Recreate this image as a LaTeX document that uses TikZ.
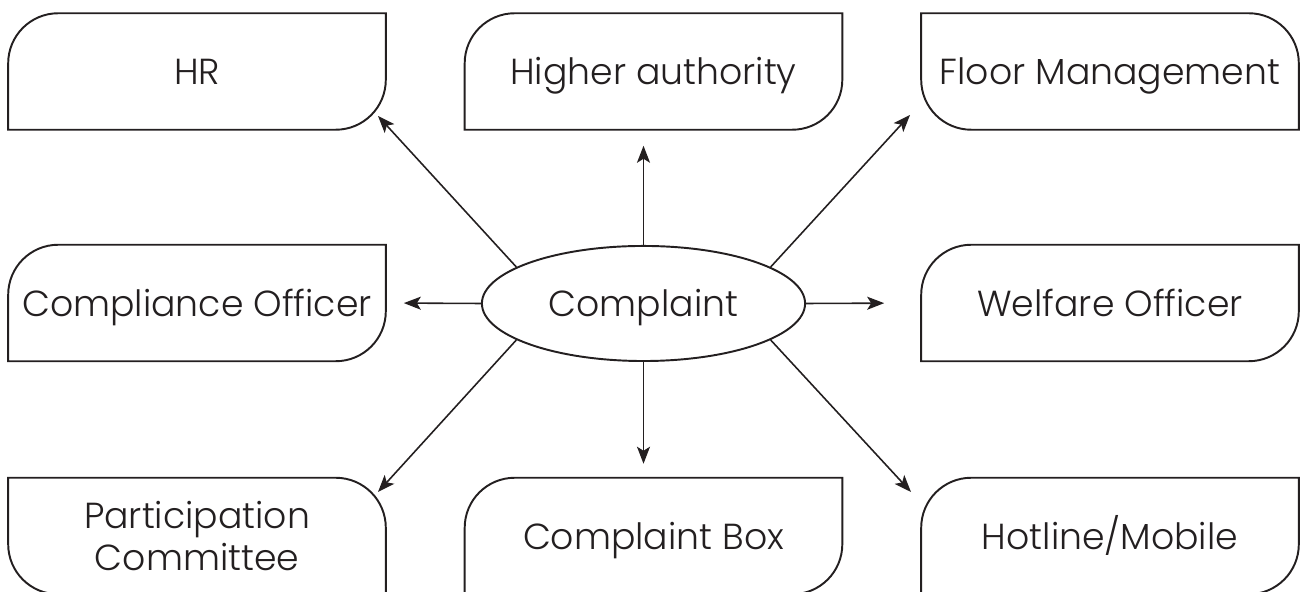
\documentclass[tikz,border=0pt]{standalone}
\usepackage{fontspec}
\IfFontExistsTF{Poppins Light}{\setmainfont{Poppins Light}}{\setmainfont{Poppins}}
\usetikzlibrary{shapes.geometric,arrows.meta,calc}
\definecolor{ink}{HTML}{231F20}

\tikzset{
	leaf/.style={minimum width=3.76cm, minimum height=1.15cm, inner sep=0pt, align=center, text=ink, font=\fontsize{10.3}{12}\selectfont},
	oneline/.style={text height=7.6pt, text depth=0pt},
	link/.style={draw=ink, line width=0.45pt, -{Stealth[length=1.7mm,width=1.3mm,inset=0.4mm]}},
}
\newcommand\leafTL[1]{
	\draw[ink, line width=0.55pt] (#1.south west) -- ($(#1.north west)+(0,-0.5cm)$) arc[start angle=180,end angle=90,radius=0.5cm] -- (#1.north east) -- ($(#1.south east)+(0,0.5cm)$) arc[start angle=0,end angle=-90,radius=0.5cm] -- cycle;
}
\newcommand\leafTR[1]{
	\draw[ink, line width=0.55pt] (#1.north west) -- ($(#1.north east)+(-0.5cm,0)$) arc[start angle=90,end angle=0,radius=0.5cm] -- (#1.south east) -- ($(#1.south west)+(0.5cm,0)$) arc[start angle=270,end angle=180,radius=0.5cm] -- cycle;
}

\begin{document}
\begin{tikzpicture}[x=0.01cm,y=-0.01cm]
	\useasboundingbox (0,0) rectangle (1300,592);
	\node[leaf, oneline] (hr) at (197,71.5) {HR};
	\node[leaf, oneline] (ha) at (653.5,71.5) {Higher authority};
	\node[leaf, oneline] (fm) at (1110,71.5) {Floor Management};
	\node[leaf, oneline] (co) at (197,303) {Compliance Officer};
	\node[leaf, oneline] (wo) at (1110,303) {Welfare Officer};
	\node[leaf] (pc) at (197,536) {Participation\\Committee};
	\node[leaf, oneline] (cb) at (653.5,536) {Complaint Box};
	\node[leaf, oneline] (hm) at (1110,536) {Hotline/Mobile};
	\node[draw=ink, ellipse, line width=0.55pt, minimum width=3.23cm, minimum height=1.15cm, inner sep=0pt, text=ink, font=\fontsize{10.3}{12}\selectfont, oneline] (cp) at (643.5,303.5) {Complaint};
	\foreach \b in {hr,ha,co,wo,cb,hm} {\leafTL{\b}}
	\foreach \b in {fm,pc} {\leafTR{\b}}
	\coordinate (hrend) at (378,116);
	\coordinate (fmend) at (910,115);
	\coordinate (pcend) at (378,492);
	\coordinate (hmend) at (911,492);
	\draw[link] (cp.164) -- (hrend);
	\draw[link] (cp.16) -- (fmend);
	\draw[link] (cp.196) -- (pcend);
	\draw[link] (cp.344) -- (hmend);
	\draw[link, shorten >=0.16cm] (cp.north) -- (cp.north |- ha.south);
	\draw[link, shorten >=0.14cm] (cp.south) -- (cp.south |- cb.north);
	\draw[link, shorten >=0.18cm] (cp.west) -- (co.east);
	\draw[link, shorten >=0.37cm] (cp.east) -- (wo.west);
\end{tikzpicture}
\end{document}
